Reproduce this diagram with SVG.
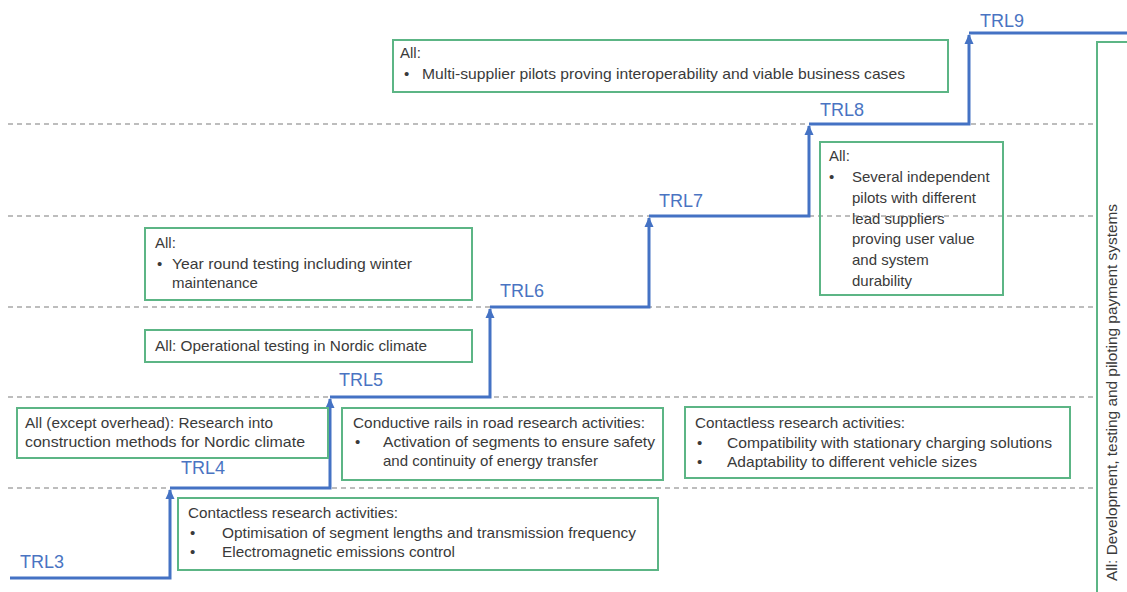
<svg xmlns="http://www.w3.org/2000/svg" width="1127" height="592" viewBox="0 0 1127 592">
<defs>
<style>
.box{fill:none;stroke:#5cb585;stroke-width:2}
.t{font-family:"Liberation Sans",Arial,sans-serif;font-size:15px;fill:#3a3a3a}
.trl{font-family:"Liberation Sans",Arial,sans-serif;font-size:18px;fill:#4a74c2}
.grid{stroke:#a8a8a8;stroke-width:1.3;stroke-dasharray:5 4;fill:none}
.step{fill:none;stroke:#4472c4;stroke-width:3}
</style>
<marker id="arr" markerUnits="userSpaceOnUse" markerWidth="12" markerHeight="12" viewBox="0 0 12 12" refX="9" refY="6" orient="auto">
<path d="M0,1.5 L10,6 L0,10.5 Z" fill="#4472c4"/>
</marker>
</defs>
<rect width="1127" height="592" fill="#ffffff"/>
<g id="gridlines">
<line class="grid" x1="8" y1="488" x2="1097" y2="488"/>
<line class="grid" x1="8" y1="397" x2="1097" y2="397"/>
<line class="grid" x1="8" y1="307" x2="1097" y2="307"/>
<line class="grid" x1="8" y1="216" x2="1097" y2="216"/>
<line class="grid" x1="8" y1="124" x2="1097" y2="124"/>
</g>
<g id="connectors">
<path class="step" d="M10,578 H170 V490" marker-end="url(#arr)"/>
<path class="step" d="M170,488 H330 V399" marker-end="url(#arr)"/>
<path class="step" d="M330,397 H490 V309" marker-end="url(#arr)"/>
<path class="step" d="M490,307 H649 V218" marker-end="url(#arr)"/>
<path class="step" d="M649,216 H809 V126" marker-end="url(#arr)"/>
<path class="step" d="M809,124 H969 V35" marker-end="url(#arr)"/>
<path class="step" d="M969,33 H1127"/>
</g>
<g id="labels">
<text class="trl" x="20" y="568">TRL3</text>
<text class="trl" x="181" y="474">TRL4</text>
<text class="trl" x="339" y="386">TRL5</text>
<text class="trl" x="500" y="297">TRL6</text>
<text class="trl" x="659" y="207">TRL7</text>
<text class="trl" x="820" y="116">TRL8</text>
<text class="trl" x="980" y="27">TRL9</text>
</g>
<g id="box-trl9">
<rect class="box" x="393" y="40" width="555" height="52"/>
<text class="t" x="400" y="58">All:</text>
<text class="t" x="404" y="79">•</text>
<text class="t" x="422" y="79" textLength="483" lengthAdjust="spacingAndGlyphs">Multi-supplier pilots proving interoperability and viable business cases</text>
</g>
<g id="box-trl8">
<rect class="box" x="820" y="142" width="183" height="153"/>
<text class="t" x="829" y="161">All:</text>
<text class="t" x="829" y="182">•</text>
<text class="t" x="852" y="182">Several independent</text>
<text class="t" x="852" y="203">pilots with different</text>
<text class="t" x="852" y="224">lead suppliers</text>
<text class="t" x="852" y="244">proving user value</text>
<text class="t" x="852" y="265">and system</text>
<text class="t" x="852" y="286">durability</text>
</g>
<g id="box-trl7">
<rect class="box" x="145" y="228" width="327" height="72"/>
<text class="t" x="155" y="248">All:</text>
<text class="t" x="157" y="269">•</text>
<text class="t" x="172" y="269" textLength="240" lengthAdjust="spacingAndGlyphs">Year round testing including winter</text>
<text class="t" x="172" y="288">maintenance</text>
</g>
<g id="box-trl6">
<rect class="box" x="145" y="330" width="327" height="32"/>
<text class="t" x="155" y="351" textLength="272" lengthAdjust="spacingAndGlyphs">All: Operational testing in Nordic climate</text>
</g>
<g id="box-trl5-all">
<rect class="box" x="17" y="408" width="311" height="50"/>
<text class="t" x="25" y="428" textLength="248" lengthAdjust="spacingAndGlyphs">All (except overhead): Research into</text>
<text class="t" x="25" y="447" textLength="280" lengthAdjust="spacingAndGlyphs">construction methods for Nordic climate</text>
</g>
<g id="box-trl5-conductive">
<rect class="box" x="342" y="408" width="321" height="72"/>
<text class="t" x="353" y="428" textLength="292" lengthAdjust="spacingAndGlyphs">Conductive rails in road research activities:</text>
<text class="t" x="355" y="447">•</text>
<text class="t" x="383" y="447" textLength="272" lengthAdjust="spacingAndGlyphs">Activation of segments to ensure safety</text>
<text class="t" x="383" y="466" textLength="215" lengthAdjust="spacingAndGlyphs">and continuity of energy transfer</text>
</g>
<g id="box-trl5-contactless">
<rect class="box" x="685" y="407" width="385" height="71"/>
<text class="t" x="695" y="428" textLength="210" lengthAdjust="spacingAndGlyphs">Contactless research activities:</text>
<text class="t" x="697" y="448">•</text>
<text class="t" x="727" y="448" textLength="325" lengthAdjust="spacingAndGlyphs">Compatibility with stationary charging solutions</text>
<text class="t" x="697" y="467">•</text>
<text class="t" x="727" y="467" textLength="250" lengthAdjust="spacingAndGlyphs">Adaptability to different vehicle sizes</text>
</g>
<g id="box-trl4-contactless">
<rect class="box" x="178" y="498" width="480" height="72"/>
<text class="t" x="188" y="518" textLength="210" lengthAdjust="spacingAndGlyphs">Contactless research activities:</text>
<text class="t" x="190" y="538">•</text>
<text class="t" x="222" y="538" textLength="414" lengthAdjust="spacingAndGlyphs">Optimisation of segment lengths and transmission frequency</text>
<text class="t" x="190" y="557">•</text>
<text class="t" x="222" y="557" textLength="233" lengthAdjust="spacingAndGlyphs">Electromagnetic emissions control</text>
</g>
<g id="box-payment">
<rect class="box" x="1097" y="42" width="40" height="560"/>
<text class="t" transform="translate(1117,581) rotate(-90)" textLength="377" lengthAdjust="spacingAndGlyphs">All: Development, testing and piloting payment systems</text>
</g>
</svg>
